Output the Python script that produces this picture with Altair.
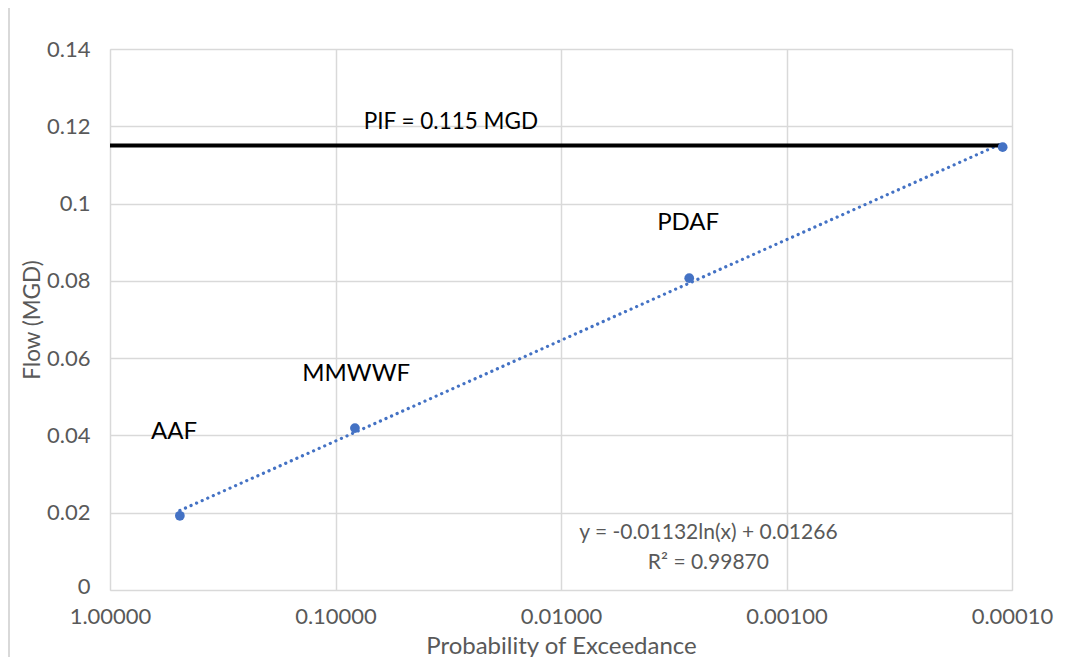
import altair as alt
import pandas as pd

# --- data ---
categories = ["AAF", "MMWWF", "PDAF", "PIF"]
prob_exceed = [0.49, 0.082, 0.0027, 0.00011]
flow_mgd = [0.0192, 0.0419, 0.0807, 0.1146]

pif_level = 0.115

label_text = ["AAF", "MMWWF", "PDAF"]
label_x = [0.52, 0.081, 0.00273]
label_y = [0.0409, 0.0559, 0.0950]

pif_text = ["PIF = 0.115 MGD"]
pif_text_x = [0.0308]
pif_text_y = [0.1211]

eq_text = ["y = -0.01132ln(x) + 0.01266", "R² = 0.99870"]
eq_x = [0.00222, 0.00222]
eq_y = [0.0147, 0.0069]

x_ticks = [1.0, 0.1, 0.01, 0.001, 0.0001]
y_ticks = [0, 0.02, 0.04, 0.06, 0.08, 0.1, 0.12, 0.14]

pts = pd.DataFrame({"cat": categories, "p": prob_exceed, "q": flow_mgd})
labels = pd.DataFrame({"t": label_text, "p": label_x, "q": label_y})
pif_lab = pd.DataFrame({"t": pif_text, "p": pif_text_x, "q": pif_text_y})
eqs = pd.DataFrame({"t": eq_text, "p": eq_x, "q": eq_y})
pif = pd.DataFrame({"p": [1.0], "p2": [prob_exceed[-1]], "q": [pif_level]})

FONT = "Lato"
GRAY = "#595959"
BLUE = "#4472C4"

xscale = alt.Scale(type="log", domain=[0.0001, 1.0], reverse=True, nice=False)
yscale = alt.Scale(domain=[0, 0.14], nice=False)

xaxis = alt.Axis(values=x_ticks, format=".5f", title="Probability of Exceedance",
                 grid=True, gridColor="#d9d9d9", gridWidth=1.5, ticks=False, domain=False,
                 labelColor=GRAY, labelFontSize=22, labelFont=FONT, labelPadding=16,
                 titleColor=GRAY, titleFontSize=24, titleFont=FONT, titleFontWeight="normal",
                 titlePadding=7, labelFlush=False)
yaxis = alt.Axis(values=y_ticks, format="~g", title="Flow (MGD)",
                 grid=True, gridColor="#d9d9d9", gridWidth=1.5, ticks=False, domain=False,
                 labelColor=GRAY, labelFontSize=22, labelFont=FONT, labelPadding=20,
                 labelOffset={"condition": {"test": "datum.value == 0", "value": -4}, "value": 0},
                 titleColor=GRAY, titleFontSize=22.5, titleFont=FONT, titleFontWeight="normal",
                 titlePadding=2)

base = alt.Chart(pts)

trend = base.transform_regression("p", "q", method="log").mark_line(
    color=BLUE, strokeDash=[0.1, 6], strokeWidth=3.2, strokeCap="round"
).encode(
    x=alt.X("p:Q", scale=xscale, axis=xaxis),
    y=alt.Y("q:Q", scale=yscale, axis=yaxis),
)

pif_line = alt.Chart(pif).mark_rule(color="black", strokeWidth=4).encode(
    x=alt.X("p:Q", scale=xscale), x2="p2:Q", y=alt.Y("q:Q", scale=yscale)
)

points = base.mark_circle(color=BLUE, size=95, opacity=1).encode(
    x=alt.X("p:Q", scale=xscale), y=alt.Y("q:Q", scale=yscale)
)

lab = alt.Chart(labels).mark_text(font=FONT, fontSize=24, color="black").encode(
    x=alt.X("p:Q", scale=xscale), y=alt.Y("q:Q", scale=yscale), text="t:N"
)

lab_pif = alt.Chart(pif_lab).mark_text(font=FONT, fontSize=22.5, color="black").encode(
    x=alt.X("p:Q", scale=xscale), y=alt.Y("q:Q", scale=yscale), text="t:N"
)

eq = alt.Chart(eqs).mark_text(font=FONT, fontSize=21, color=GRAY).encode(
    x=alt.X("p:Q", scale=xscale), y=alt.Y("q:Q", scale=yscale), text="t:N"
)

frame_top = alt.Chart(pif).mark_rule(color="#d9d9d9", strokeWidth=2).encode(
    x=alt.value(-101), x2=alt.value(970), y=alt.value(-42)
)
frame_left = alt.Chart(pif).mark_rule(color="#d9d9d9", strokeWidth=2).encode(
    x=alt.value(-101), y=alt.value(-42), y2=alt.value(620)
)

chart = alt.layer(trend, pif_line, points, lab, lab_pif, eq, frame_top, frame_left).properties(
    width=902, height=541,
    autosize=alt.AutoSizeParams(type="none"),
    padding={"left": 102, "top": 41, "right": 55, "bottom": 67},
).configure_view(stroke="#d9d9d9", strokeWidth=1.5).configure(background="white")

chart.save("out.html", embed_options={"renderer": "svg", "actions": False})
